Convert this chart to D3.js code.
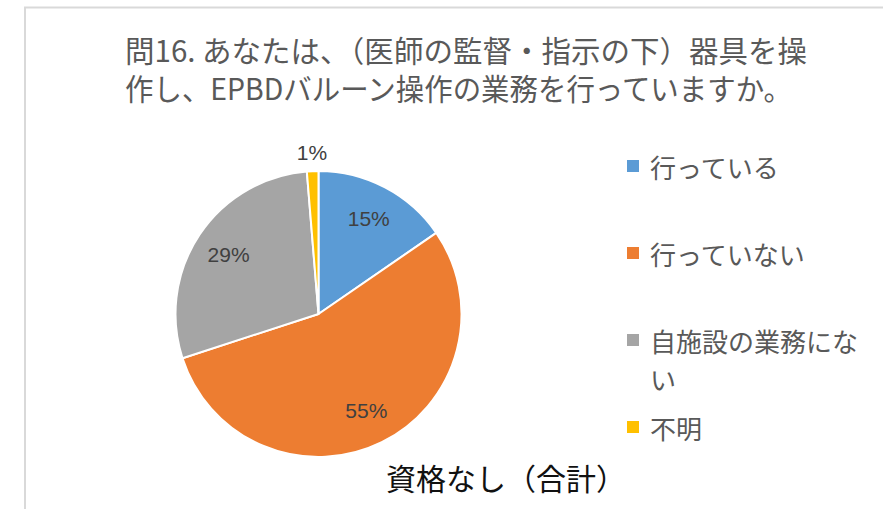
<!DOCTYPE html>
<html><head><meta charset="utf-8">
<script src="https://cdn.jsdelivr.net/npm/d3@7"></script>
<style>body{margin:0;background:#fff}svg{display:block}</style>
</head><body>
<script>
const titleLines = ["問16. あなたは、（医師の監督・指示の下）器具を操", "作し、EPBDバルーン操作の業務を行っていますか。"];
const categories = ["行っている", "行っていない", "自施設の業務にない", "不明"];
const values = [15.4, 54.6, 28.7, 1.3];
const labels = ["15%", "55%", "29%", "1%"];
const colors = ["#5b9bd5", "#ed7d31", "#a5a5a5", "#ffc000"];
const subtitle = "資格なし（合計）";

const W = 883, H = 509;
const svg = d3.select("body").append("svg").attr("width", W).attr("height", H);

// chart border
svg.append("path").attr("d", `M25,${H}V7.5H${W}`).attr("fill","none").attr("stroke","#d9d9d9").attr("stroke-width",2);

// title
const tw = [682, 667];
svg.append("g").selectAll("text").data(titleLines).join("text")
  .attr("x", 125).attr("y", (d,i)=>62 + i*38)
  .attr("font-family","'Noto Sans CJK JP', sans-serif").attr("font-size",29.5)
  .attr("fill","#595959")
  .attr("textLength",(d,i)=>tw[i]).attr("lengthAdjust","spacingAndGlyphs")
  .text(d=>d);

const cx = 318.5, cy = 314, R = 143;
const pie = d3.pie().sort(null).value(d=>d)(values);
const arc = d3.arc().innerRadius(0).outerRadius(R);
const g = svg.append("g").attr("transform",`translate(${cx},${cy})`);
g.selectAll("path").data(pie).join("path")
  .attr("d", arc).attr("fill",(d,i)=>colors[i])
  .attr("stroke","#fff").attr("stroke-width",2).attr("stroke-linejoin","round");

const labIn = d3.arc().innerRadius(108).outerRadius(108);
const labOut = d3.arc().innerRadius(162).outerRadius(162);
g.selectAll("text").data(pie).join("text")
  .attr("transform",(d,i)=>{const c = (values[i] < 5 ? labOut : labIn).centroid(d); return `translate(${c[0]},${c[1]})`;})
  .attr("text-anchor","middle").attr("dominant-baseline","central")
  .attr("font-family","'Liberation Sans', sans-serif").attr("font-size",21)
  .attr("fill","#404040")
  .text((d,i)=>labels[i]);

// legend
const legY = [166, 253, 340, 427];
const lg = svg.append("g");
categories.forEach((c,i)=>{
  lg.append("rect").attr("x",627).attr("y",legY[i]-6).attr("width",12).attr("height",12).attr("fill",colors[i]);
  const lines = c === "自施設の業務にない" ? ["自施設の業務にな","い"] : [c];
  lines.forEach((l,j)=>{
    lg.append("text").attr("x",650).attr("y",legY[i] + j*38).attr("dominant-baseline","central")
      .attr("font-family","'Noto Sans CJK JP', sans-serif").attr("font-size",26)
      .attr("fill","#595959").text(l);
  });
});

svg.append("text").attr("x",506).attr("y",477).attr("text-anchor","middle").attr("dominant-baseline","central")
  .attr("font-family","'Noto Sans CJK JP', sans-serif").attr("font-size",30).attr("fill","#111")
  .text(subtitle);
</script>
</body></html>
